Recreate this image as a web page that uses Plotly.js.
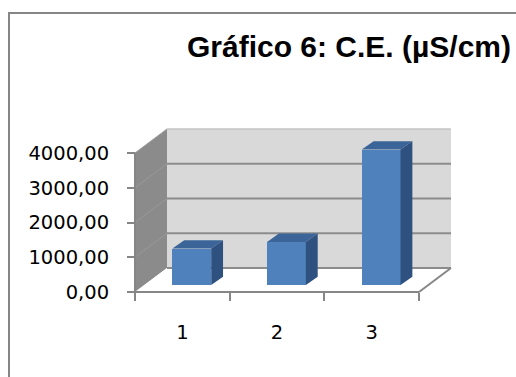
<!DOCTYPE html>
<html>
<head>
<meta charset="utf-8">
<script src="https://cdn.plot.ly/plotly-3.0.1.min.js"></script>
<style>
  html, body { margin: 0; padding: 0; background: #ffffff; }
  #chart { width: 516px; height: 377px; }
</style>
</head>
<body>
<div id="chart"></div>
<script>
// ---- data ----
const categories = ['1', '2', '3'];
const values = [1050, 1240, 3900];
const yTickVals = [0, 1000, 2000, 3000, 4000];
const yTickText = ['0,00', '1000,00', '2000,00', '3000,00', '4000,00'];
const chartTitle = 'Gráfico 6: C.E. (µS/cm)';

// ---- geometry (pixels of the front plane) ----
const W = 516, H = 377;
const axisX = 135, axisY = 292;           // front-plane origin in px
const PX = 284 / 3;                       // px per category unit
const PY = 139 / 4000;                    // px per data unit
const plotL = 131, plotR = 456, plotT = 125, plotB = 296;
const xRange = [0.5 - (axisX - plotL) / PX, 0.5 + (plotR - axisX) / PX];
const yRange = [-(plotB - axisY) / PY, (axisY - plotT) / PY];

// 3D depth offsets (data units)
const DX = 32 / PX, DY = 690;             // full depth of floor/walls
const FRONT_DX = 0.1, FRONT_DY = 200;     // bar front face depth
const BAR_W = 0.41;
const SDX = 0.125, SDY = 240;             // bar depth

const pos = categories.map((c, i) => i + 1);
const xMin = 0.5, xMax = categories.length + 0.5;
const yTop = yTickVals[yTickVals.length - 1];

// ---- bar faces ----
const topX = [], topY = [], sideX = [], sideY = [];
values.forEach((v, i) => {
  const x0 = pos[i] + FRONT_DX - BAR_W / 2, x1 = x0 + BAR_W;
  const yT = FRONT_DY + v;
  topX.push(x0, x1, x1 + SDX, x0 + SDX, x0, null);
  topY.push(yT, yT, yT + SDY, yT + SDY, yT, null);
  sideX.push(x1, x1, x1 + SDX, x1 + SDX, x1, null);
  sideY.push(FRONT_DY, yT, yT + SDY, FRONT_DY + SDY, FRONT_DY, null);
});

const traces = [
  {
    type: 'bar', x: pos, y: values, base: FRONT_DY,
    width: BAR_W, offset: FRONT_DX - BAR_W / 2,
    marker: { color: '#4f81bd', line: { width: 0 } },
    hoverinfo: 'skip', showlegend: false
  },
  {
    type: 'scatter', mode: 'lines', x: topX, y: topY, fill: 'toself',
    fillcolor: '#3b6598', line: { width: 0, color: '#3b6598' },
    hoverinfo: 'skip', showlegend: false
  },
  {
    type: 'scatter', mode: 'lines', x: sideX, y: sideY, fill: 'toself',
    fillcolor: '#2f5180', line: { width: 0, color: '#2f5180' },
    hoverinfo: 'skip', showlegend: false
  },
  {
    type: 'scatter', mode: 'none', x: [null], y: [null], xaxis: 'x2',
    hoverinfo: 'skip', showlegend: false
  }
];

// ---- walls, floor, gridlines ----
const shapes = [];
const pw = plotR - plotL, ph = plotB - plotT;
const px2paper = p => (p - plotL) / pw;
const py2paper = p => (plotB - p) / ph;
// outer chart frame
shapes.push({
  type: 'rect', xref: 'paper', yref: 'paper',
  x0: px2paper(9), x1: px2paper(W + 10), y0: py2paper(H + 10), y1: py2paper(13),
  line: { color: '#868686', width: 2 }, fillcolor: 'rgba(0,0,0,0)', layer: 'below'
});
// left wall
shapes.push({
  type: 'path', xref: 'x', yref: 'y', layer: 'below',
  path: `M ${xMin},0 L ${xMin + DX},${DY} L ${xMin + DX},${yTop + DY} L ${xMin},${yTop} Z`,
  fillcolor: '#8b8b8b', line: { width: 0 }
});
// back wall
shapes.push({
  type: 'rect', xref: 'x', yref: 'y', layer: 'below',
  x0: xMin + DX, x1: xMax + DX, y0: DY, y1: yTop + DY,
  fillcolor: '#d9d9d9', line: { width: 0 }
});
// floor
shapes.push({
  type: 'path', xref: 'x', yref: 'y', layer: 'below',
  path: `M ${xMin},0 L ${xMax},0 L ${xMax + DX},${DY} L ${xMin + DX},${DY} Z`,
  fillcolor: '#ffffff', line: { width: 0 }
});
// gridlines on back wall + left wall
yTickVals.forEach((v, i) => {
  const last = i === yTickVals.length - 1;
  shapes.push({
    type: 'line', xref: 'x', yref: 'y', layer: 'below',
    x0: xMin + DX, x1: xMax + DX, y0: v + DY, y1: v + DY,
    line: { color: last ? '#c4c4c4' : '#8c8c8c', width: last ? 1.5 : 2 }
  });
  if (i > 0) {
    shapes.push({
      type: 'line', xref: 'x', yref: 'y', layer: 'below',
      x0: xMin, x1: xMin + DX, y0: v, y1: v + DY,
      line: { color: '#999999', width: 1 }
    });
  }
});
// axis lines and floor edges
shapes.push({ type: 'line', xref: 'x', yref: 'y', layer: 'below',
  x0: xMin, x1: xMin, y0: 0, y1: yTop, line: { color: '#868686', width: 2 } });
shapes.push({ type: 'line', xref: 'x', yref: 'y', layer: 'below',
  x0: xMin, x1: xMax, y0: 0, y1: 0, line: { color: '#868686', width: 2 } });
shapes.push({ type: 'line', xref: 'x', yref: 'y', layer: 'below',
  x0: xMax, x1: xMax + DX, y0: 0, y1: DY, line: { color: '#868686', width: 2 } });

const tickFont = { family: 'DejaVu Sans', size: 19.5, color: '#000000' };
const xPosPaper = (plotB - axisY) / ph;
const yPosPaper = (axisX - plotL) / pw;

const layout = {
  width: W, height: H,
  margin: { l: plotL, r: W - plotR, t: plotT, b: H - plotB, pad: 0 },
  paper_bgcolor: '#ffffff', plot_bgcolor: 'rgba(0,0,0,0)',
  showlegend: false,
  title: {
    text: chartTitle,
    font: { family: 'Liberation Sans', size: 30, color: '#000000', weight: 'bold' },
    xref: 'container', yref: 'container',
    x: 511 / W, xanchor: 'right', y: 1 - 46 / H, yanchor: 'middle'
  },
  xaxis: {
    type: 'linear', range: xRange, anchor: 'free', position: xPosPaper,
    tickmode: 'array', tickvals: pos, ticktext: categories,
    ticks: '', showline: false, showgrid: false, zeroline: false,
    tickfont: tickFont, ticklabelstandoff: 26, fixedrange: true
  },
  xaxis2: {
    type: 'linear', range: xRange, overlaying: 'x', anchor: 'free', position: xPosPaper,
    tickmode: 'array', tickvals: pos.map(p => p - 0.5).concat([xMax]),
    ticks: 'outside', ticklen: 8, tickwidth: 2, tickcolor: '#868686',
    showticklabels: false, showline: false, showgrid: false, zeroline: false
  },
  yaxis: {
    range: yRange, anchor: 'free', position: yPosPaper,
    tickmode: 'array', tickvals: yTickVals, ticktext: yTickText,
    ticks: 'outside', ticklen: 8, tickwidth: 2, tickcolor: '#868686',
    showline: false, showgrid: false, zeroline: false,
    tickfont: tickFont, ticklabelstandoff: 14, fixedrange: true
  },
  shapes: shapes,
  bargap: 0
};

Plotly.newPlot('chart', traces, layout, { staticPlot: true, displayModeBar: false });
</script>
</body>
</html>
